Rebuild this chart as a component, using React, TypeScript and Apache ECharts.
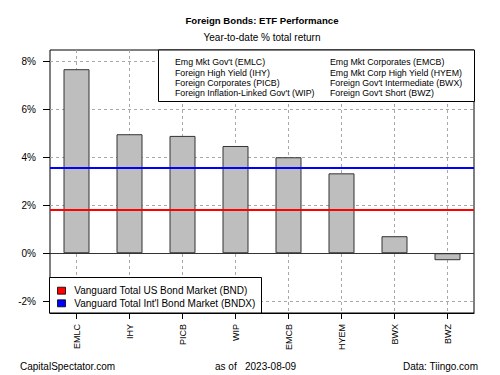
import React, { useEffect, useRef } from "react";
import * as echarts from "echarts";

const categories = ["EMLC", "IHY", "PICB", "WIP", "EMCB", "HYEM", "BWX", "BWZ"];
const returns = [7.67, 4.96, 4.89, 4.47, 4.0, 3.33, 0.71, -0.29];
const bndReturn = 1.8;
const bndxReturn = 3.58;
const yTicks = [-2, 0, 2, 4, 6, 8];
const legendLeft = [
  "Emg Mkt Gov't (EMLC)",
  "Foreign High Yield (IHY)",
  "Foreign Corporates (PICB)",
  "Foreign Inflation-Linked Gov't (WIP)",
];
const legendRight = [
  "Emg Mkt Corporates (EMCB)",
  "Emg Mkt Corp High Yield (HYEM)",
  "Foreign Gov't Intermediate (BWX)",
  "Foreign Gov't Short (BWZ)",
];
const benchLabels = [
  "Vanguard Total US Bond Market (BND)",
  "Vanguard Total Int'l Bond Market (BNDX)",
];
const benchColors = ["#ff0000", "#0000ff"];

const FONT = "'Liberation Sans', Arial, sans-serif";
const GRID_COLOR = "#a8a8a8";

export default function App() {
  const ref = useRef<HTMLDivElement>(null);
  useEffect(() => {
    if (!ref.current) return;
    const chart = echarts.init(ref.current, null, { renderer: "svg" });
    const plotL = 50, plotT = 50, plotW = 424, plotH = 263;
    const yMin = -2.49, yMax = 8.47;
    const pxPer = plotH / (yMax - yMin);
    const yOf = (v: number) => plotT + (yMax - v) * pxPer;
    const tickTop = yOf(yTicks[yTicks.length - 1]);
    const tickBot = yOf(yTicks[0]);
    const bandW = plotW / categories.length;

    const graphics: any[] = [];
    graphics.push({
      type: "text", x: 262, y: 20,
      style: { text: "Foreign Bonds: ETF Performance", font: `bold 9.6px ${FONT}`, fill: "#000", textAlign: "center", textVerticalAlign: "middle" },
    });
    graphics.push({
      type: "text", x: 262, y: 37,
      style: { text: "Year-to-date % total return", font: `10px ${FONT}`, fill: "#000", textAlign: "center", textVerticalAlign: "middle" },
    });
    graphics.push({
      type: "rect", shape: { x: 158.5, y: 50, width: 316, height: 51.5 }, z: 100,
      style: { fill: "#fff", stroke: "#000", lineWidth: 1 },
    });
    legendLeft.forEach((t, i) => {
      graphics.push({
        type: "text", x: 175, y: 62.3 + i * 10.3, z: 101,
        style: { text: t, font: `8.8px ${FONT}`, fill: "#000", textVerticalAlign: "middle" },
      });
    });
    legendRight.forEach((t, i) => {
      graphics.push({
        type: "text", x: 330, y: 62.3 + i * 10.3, z: 101,
        style: { text: t, font: `8.8px ${FONT}`, fill: "#000", textVerticalAlign: "middle" },
      });
    });
    graphics.push({
      type: "rect", shape: { x: 49.5, y: 277.5, width: 212, height: 35.5 }, z: 100,
      style: { fill: "#fff", stroke: "#000", lineWidth: 1 },
    });
    benchLabels.forEach((t, i) => {
      const cy = 290.7 + i * 12.6;
      graphics.push({
        type: "rect", shape: { x: 57.5, y: cy - 3.5, width: 8, height: 7 }, z: 101,
        style: { fill: benchColors[i], stroke: "#000", lineWidth: 0.8 },
      });
      graphics.push({
        type: "text", x: 74.3, y: cy, z: 101,
        style: { text: t, font: `10px ${FONT}`, fill: "#000", textVerticalAlign: "middle" },
      });
    });
    graphics.push({
      type: "text", x: 20, y: 366.5,
      style: { text: "CapitalSpectator.com", font: `10px ${FONT}`, fill: "#000", textVerticalAlign: "middle" },
    });
    graphics.push({
      type: "text", x: 215, y: 366.5,
      style: { text: "as of", font: `10px ${FONT}`, fill: "#000", textVerticalAlign: "middle" },
    });
    graphics.push({
      type: "text", x: 245, y: 366.5,
      style: { text: "2023-08-09", font: `10px ${FONT}`, fill: "#000", textVerticalAlign: "middle" },
    });
    graphics.push({
      type: "text", x: 478, y: 366.5,
      style: { text: "Data: Tiingo.com", font: `10px ${FONT}`, fill: "#000", textAlign: "right", textVerticalAlign: "middle" },
    });

    const dashed = { color: GRID_COLOR, type: [3, 3], width: 1 };

    const option: any = {
      animation: false,
      backgroundColor: "#fff",
      textStyle: { fontFamily: FONT },
      grid: [
        { left: plotL, top: plotT, width: plotW, height: plotH, show: true, borderColor: "#000", borderWidth: 1, backgroundColor: "rgba(0,0,0,0)" },
        { left: plotL, top: tickTop, width: plotW, height: tickBot - tickTop, show: false },
        // grid spanning category centres (first to last), used only for vertical gridlines
        { left: plotL + bandW / 2, top: plotT, width: plotW - bandW, height: plotH, show: false },
      ],
      xAxis: [
        {
          type: "category", gridIndex: 0, data: categories, boundaryGap: true,
          axisLine: { show: true, onZero: false, lineStyle: { color: "#000" } },
          axisTick: { show: true, alignWithLabel: true, length: 6, lineStyle: { color: "#000" } },
          axisLabel: { rotate: 90, margin: 11, fontSize: 9, color: "#000", fontFamily: FONT },
          splitLine: { show: false },
        },
        { type: "value", gridIndex: 1, min: 0, max: 1, show: false },
        {
          type: "value", gridIndex: 2, min: 0, max: categories.length - 1, interval: 1,
          axisLine: { show: false }, axisTick: { show: false }, axisLabel: { show: false },
          splitLine: { show: true, showMinLine: true, showMaxLine: true, lineStyle: dashed },
        },
      ],
      yAxis: [
        { type: "value", gridIndex: 0, min: yMin, max: yMax, show: false },
        {
          type: "value", gridIndex: 1, min: yTicks[0], max: yTicks[yTicks.length - 1], interval: 2,
          axisLine: { show: false },
          axisTick: { show: true, length: 7, lineStyle: { color: "#000" } },
          axisLabel: { margin: 14, fontSize: 10, color: "#000", fontFamily: FONT, formatter: "{value}%" },
          splitLine: { show: true, lineStyle: dashed },
        },
        {
          type: "value", gridIndex: 2, min: 0, max: 1,
          axisLine: { show: false }, axisTick: { show: false }, axisLabel: { show: false },
          splitLine: { show: false },
        },
      ],
      series: [
        {
          type: "bar", xAxisIndex: 0, yAxisIndex: 0, data: returns, barWidth: 26, z: 2,
          itemStyle: { color: "#bebebe", borderColor: "#333", borderWidth: 1 },
          markLine: {
            silent: true, symbol: "none", label: { show: false },
            data: [
              { yAxis: 0, lineStyle: { color: "#333", width: 1, type: "solid" } },
              { yAxis: bndReturn, lineStyle: { color: benchColors[0], width: 2, type: "solid" } },
              { yAxis: bndxReturn, lineStyle: { color: benchColors[1], width: 2, type: "solid" } },
            ],
          },
        },
      ],
      graphic: graphics,
    };
    chart.setOption(option);
    return () => chart.dispose();
  }, []);
  return <div ref={ref} style={{ position: "fixed", left: 0, top: 0, width: 500, height: 375 }} />;
}
